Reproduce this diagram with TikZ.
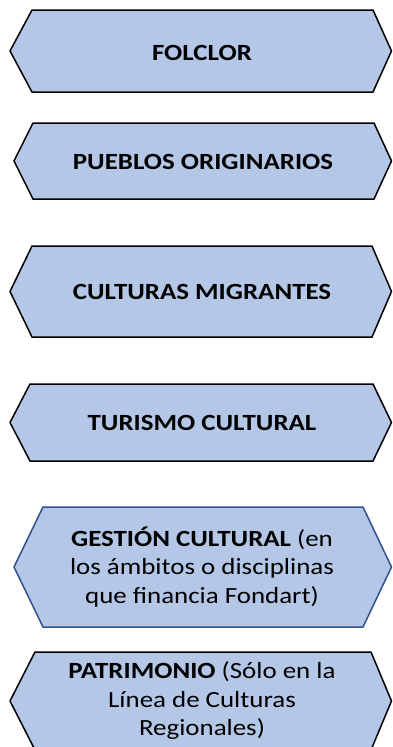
\documentclass[tikz,border=0pt]{standalone}
\usepackage{fontspec}
\setmainfont{Carlito}
\usepackage{xcolor}
\usepackage{tikz}
\usetikzlibrary{positioning}

\definecolor{boxfill}{HTML}{B4C7E7}
\definecolor{boxblue}{HTML}{2F528F}

\tikzset{
    hexbox/.style={fill=boxfill, draw=black, line width=1.5pt, line join=miter},
    hexboxblue/.style={hexbox, draw=boxblue},
    boxtext/.style={align=center, inner sep=0pt, xscale=1.16, font=\fontsize{23.2}{28.5}\selectfont}
}

\begin{document}
\begin{tikzpicture}[x=1pt, y=-1pt]
    \useasboundingbox (0,0) rectangle (392,747);
    \clip (0,0) rectangle (392,747);

    % Folclor
    \path[hexbox] (10,51) -- (32,10) -- (373,10) -- (391.5,51) -- (373,92) -- (32,92) -- cycle;
    \node[boxtext] (folclor) at (202,53) {\textbf{FOLCLOR}};

    % Pueblos originarios
    \path[hexbox] (14,161) -- (33,123) -- (374,123) -- (391.5,161) -- (374,199) -- (33,199) -- cycle;
    \node[boxtext] (pueblos) at (203,162) {\textbf{PUEBLOS ORIGINARIOS}};

    % Culturas migrantes
    \path[hexbox] (10,291.5) -- (32,246) -- (372,246) -- (391.5,291.5) -- (372,337) -- (32,337) -- cycle;
    \node[boxtext] (migrantes) at (202,292) {\textbf{CULTURAS MIGRANTES}};

    % Turismo cultural
    \path[hexbox] (10,422.5) -- (30,384) -- (373,384) -- (391.5,422.5) -- (373,461) -- (30,461) -- cycle;
    \node[boxtext] (turismo) at (202,423) {\textbf{TURISMO CULTURAL}};

    % Gestion cultural (blue outline)
    \path[hexboxblue] (14,567) -- (43,507) -- (363,507) -- (391.5,567) -- (363,627) -- (43,627) -- cycle;
    \node[boxtext] (gestion) at (202,567) {\textbf{GESTIÓN CULTURAL} (en\\los ámbitos o disciplinas\\que financia Fondart)};

    % Patrimonio, cut at the bottom edge
    \path[hexbox] (10,701) -- (35,652) -- (371,652) -- (391.5,701) -- (371,750) -- (35,750) -- cycle;
    \node[boxtext] (patrimonio) at (202,701) {\textbf{PATRIMONIO} (Sólo en la\\Línea de Culturas\\Regionales)};
\end{tikzpicture}
\end{document}
